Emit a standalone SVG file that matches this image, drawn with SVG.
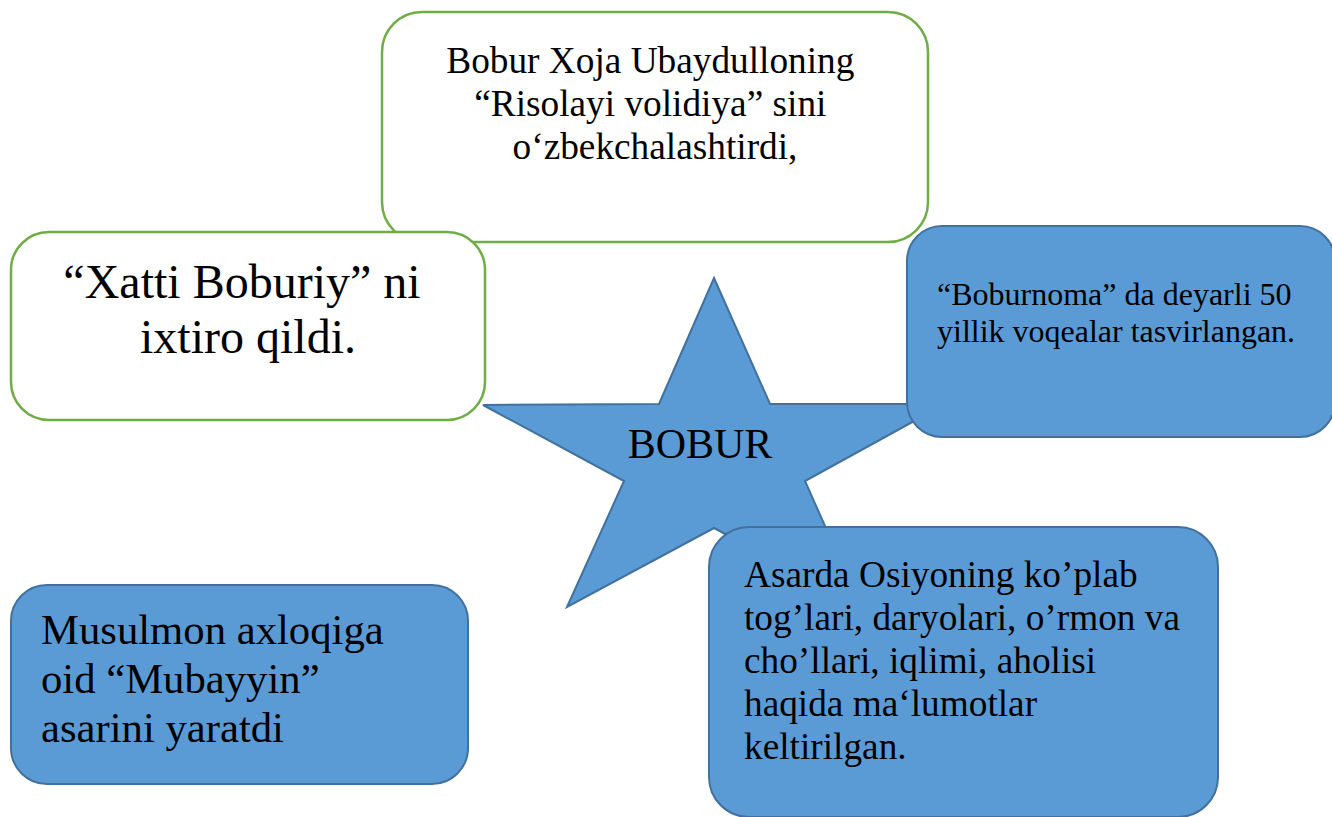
<svg xmlns="http://www.w3.org/2000/svg" width="1332" height="817" viewBox="0 0 1332 817">
  <style>
    .green { fill: #ffffff; stroke: #70AD47; stroke-width: 2.5; }
    .blue { fill: #5B9BD5; stroke: #41719C; stroke-width: 2; }
    .lbl { font-family: "Liberation Serif", "Tinos", "Times New Roman", Times, "DejaVu Serif", serif; fill: #000000; }
    .t28 { font-size: 37.3px; }
    .t24 { font-size: 32px; }
    .t32 { font-size: 42.7px; }
    .t36 { font-size: 48px; }
  </style>
  <rect width="1332" height="817" fill="#ffffff"/>

  <!-- upper note -->
  <g id="risolayi">
    <rect class="green" x="382" y="12" width="546" height="230" rx="40" ry="40"/>
    <text class="lbl t28" text-anchor="middle">
      <tspan x="655" y="73">Bobur Xoja Ubaydulloning</tspan>
      <tspan x="655" y="116">“Risolayi volidiya” sini</tspan>
      <tspan x="655" y="159">o‘zbekchalashtirdi,</tspan>
    </text>
  </g>

  <!-- central star -->
  <g id="bobur">
    <polygon class="blue" points="714,278 770,404 945,404 805,481 861,607 714,528 567,607 624,481 483,405 659,404"/>
    <text class="lbl" x="700" y="458" text-anchor="middle" font-size="42">BOBUR</text>
  </g>

  <!-- left note -->
  <g id="xatti">
    <rect class="green" x="11" y="232" width="474" height="188" rx="38" ry="38"/>
    <text class="lbl t36" text-anchor="middle">
      <tspan x="248" y="298">“Xatti Boburiy” ni</tspan>
      <tspan x="248" y="353">ixtiro qildi.</tspan>
    </text>
  </g>

  <!-- right note -->
  <g id="boburnoma">
    <rect class="blue" x="907" y="226" width="428" height="211" rx="35" ry="35"/>
    <text class="lbl t24">
      <tspan x="937" y="305">“Boburnoma” da deyarli 50</tspan>
      <tspan x="937" y="342">yillik voqealar tasvirlangan.</tspan>
    </text>
  </g>

  <!-- lower right note -->
  <g id="asarda">
    <rect class="blue" x="709" y="527" width="509" height="290" rx="40" ry="40"/>
    <text class="lbl t28">
      <tspan x="744" y="587">Asarda Osiyoning ko’plab</tspan>
      <tspan x="744" y="630">tog’lari, daryolari, o’rmon va</tspan>
      <tspan x="744" y="673">cho’llari, iqlimi, aholisi</tspan>
      <tspan x="744" y="716">haqida ma‘lumotlar</tspan>
      <tspan x="744" y="759">keltirilgan.</tspan>
    </text>
  </g>

  <!-- lower left note -->
  <g id="mubayyin">
    <rect class="blue" x="11" y="585" width="457" height="199" rx="36" ry="36"/>
    <text class="lbl t32">
      <tspan x="41" y="644">Musulmon axloqiga</tspan>
      <tspan x="41" y="693">oid “Mubayyin”</tspan>
      <tspan x="41" y="742">asarini yaratdi</tspan>
    </text>
  </g>

  <!-- no connectors in this diagram -->
  <g id="connectors"/>
</svg>
